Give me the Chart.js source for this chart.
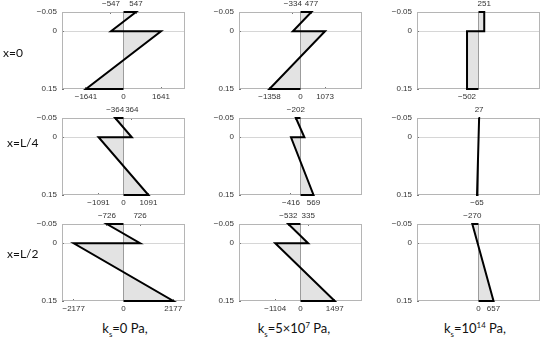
<!DOCTYPE html>
<html>
<head>
<meta charset="utf-8">
<script src="https://cdn.jsdelivr.net/npm/chart.js@4.4.1/dist/chart.umd.min.js"></script>
<style>
  body { margin: 0; background: #fff; width: 550px; height: 343px; position: relative; overflow: hidden; }
  canvas { position: absolute; }
  .lab { position: absolute; font-family: Lato, "Open Sans", sans-serif; color: #111; white-space: nowrap; line-height: 1; }
  .lab sub, .lab sup { font-size: 60%; }
</style>
</head>
<body>
<script>
const rowLabels = ['x=0', 'x=L/4', 'x=L/2'];
const colLabels = ['k<sub>s</sub>=0 Pa,', 'k<sub>s</sub>=5×10<sup>7</sup> Pa,', 'k<sub>s</sub>=10<sup>14</sup> Pa,'];

// depth of each profile point: top, interface (upper layer), interface (lower layer), bottom
const depths = [-0.05, 0, 0, 0.15];
const yTicks = [-0.05, 0, 0.15];

// stress values at those depths
const ks0_x0 = [547, -547, 1641, -1641];
const ks0_xL4 = [-364, 364, -1091, 1091];
const ks0_xL2 = [-726, 726, -2177, 2177];
const ks5e7_x0 = [477, -334, 1073, -1358];
const ks5e7_xL4 = [-202, 170, -416, 569];
const ks5e7_xL2 = [-532, 335, -1104, 1497];
const ks1e14_x0 = [251, 251, -502, -502];
const ks1e14_xL4 = [27, 4, 4, -65];
const ks1e14_xL2 = [-270, -38, -38, 657];

// tick labels above / below each panel (columns ks=0, 5e7, 1e14)
const topTicksX0 = [[-547, 547], [-334, 477], [251]];
const topTicksXL4 = [[-364, 364], [-202], [27]];
const topTicksXL2 = [[-726, 726], [-532, 335], [-270]];
const botTicksX0 = [[-1641, 0, 1641], [-1358, 0, 1073], [-502]];
const botTicksXL4 = [[-1091, 0, 1091], [-416, 569], [-65]];
const botTicksXL2 = [[-2177, 0, 2177], [-1104, 0, 1497], [0, 657]];

const xLim = 2690;

const panels = [
  [ks0_x0, ks5e7_x0, ks1e14_x0],
  [ks0_xL4, ks5e7_xL4, ks1e14_xL4],
  [ks0_xL2, ks5e7_xL2, ks1e14_xL2]
];
const topTicks = [topTicksX0, topTicksXL4, topTicksXL2];
const botTicks = [botTicksX0, botTicksXL4, botTicksXL2];

const plotLeft = [62, 239, 417];
const plotTop = [12, 118, 224];

function fmt(v) {
  return v < 0 ? '\u2212' + Math.abs(v) : String(v);
}

const box = {
  id: 'box',
  beforeDatasetDraw(chart, args) {
    if (args.index !== 0) return;
    const { ctx, chartArea: a } = chart;
    ctx.save();
    ctx.strokeStyle = '#b5b5b5';
    ctx.lineWidth = 1;
    ctx.strokeRect(a.left + 0.5, a.top + 0.5, a.right - a.left - 1, a.bottom - a.top - 1);
    ctx.restore();
  }
};

function panel(r, c) {
  const vals = panels[r][c];
  const pts = [{ x: 0, y: depths[0] }];
  vals.forEach((v, i) => pts.push({ x: v, y: depths[i] }));
  pts.push({ x: 0, y: depths[3] });

  const cv = document.createElement('canvas');
  cv.width = 169;
  cv.height = 103;
  cv.style.left = (plotLeft[c] - 40) + 'px';
  cv.style.top = (plotTop[r] - 12) + 'px';
  document.body.appendChild(cv);

  const tickFont = { family: '"Liberation Sans", Arial, sans-serif', size: 8 };
  // MATLAB style: short tick marks pointing into the box
  const xGrid = { display: true, drawOnChartArea: false, drawTicks: true, tickLength: -2, tickColor: '#777', lineWidth: 1 };

  new Chart(cv, {
    type: 'line',
    data: {
      datasets: [
        { data: pts, borderColor: '#000', borderWidth: 2, pointRadius: 0, fill: false, clip: false },
        { data: [{ x: 0, y: depths[0] }, { x: 0, y: depths[3] }], borderColor: '#9c9c9c', borderWidth: 1, pointRadius: 0, fill: false },
        { data: pts, borderColor: 'transparent', borderWidth: 0, pointRadius: 0, fill: 'origin', backgroundColor: '#e3e3e3' }
      ]
    },
    options: {
      indexAxis: 'y',
      animation: false,
      responsive: false,
      events: [],
      layout: { padding: { right: 6 } },
      plugins: { legend: { display: false }, tooltip: { enabled: false } },
      scales: {
        x: {
          type: 'linear', position: 'bottom', min: -xLim, max: xLim,
          grid: xGrid,
          border: { display: false },
          ticks: { font: tickFont, color: '#333', padding: 5, autoSkip: false, maxRotation: 0, callback: v => fmt(v) },
          afterBuildTicks: s => { s.ticks = botTicks[r][c].map(v => ({ value: v })); },
          afterFit: s => { s.height = 14; }
        },
        x2: {
          type: 'linear', position: 'top', min: -xLim, max: xLim,
          grid: xGrid,
          border: { display: false },
          ticks: { font: tickFont, color: '#333', padding: 5, autoSkip: false, maxRotation: 0, callback: v => fmt(v) },
          afterBuildTicks: s => { s.ticks = topTicks[r][c].map(v => ({ value: v })); },
          afterFit: s => { s.height = 12; }
        },
        y: {
          type: 'linear', position: 'left', reverse: true, min: -0.05, max: 0.15,
          grid: {
            drawTicks: true, tickLength: -2, tickColor: '#777',
            color: ctx => ctx.tick && ctx.tick.value === 0 ? '#d6d6d6' : 'transparent'
          },
          border: { display: false },
          ticks: { font: tickFont, color: '#333', padding: 7, autoSkip: false, callback: v => fmt(v) },
          afterBuildTicks: s => { s.ticks = yTicks.map(v => ({ value: v })); },
          afterFit: s => { s.width = 40; }
        }
      }
    },
    plugins: [box]
  });
}

for (let r = 0; r < 3; r++) {
  for (let c = 0; c < 3; c++) panel(r, c);
}

const rowPos = [[3, 53], [7, 143], [7, 254]];
rowLabels.forEach((t, i) => {
  const d = document.createElement('div');
  d.className = 'lab';
  d.style.fontSize = '12px';
  d.style.left = rowPos[i][0] + 'px';
  d.style.top = (rowPos[i][1] - 6) + 'px';
  d.textContent = t;
  document.body.appendChild(d);
});

const colCenter = [125, 294, 475];
colLabels.forEach((t, i) => {
  const d = document.createElement('div');
  d.className = 'lab';
  d.style.fontSize = '13px';
  d.style.left = colCenter[i] + 'px';
  d.style.top = '322px';
  d.style.transform = 'translateX(-50%)';
  d.innerHTML = t;
  document.body.appendChild(d);
});
</script>
</body>
</html>
